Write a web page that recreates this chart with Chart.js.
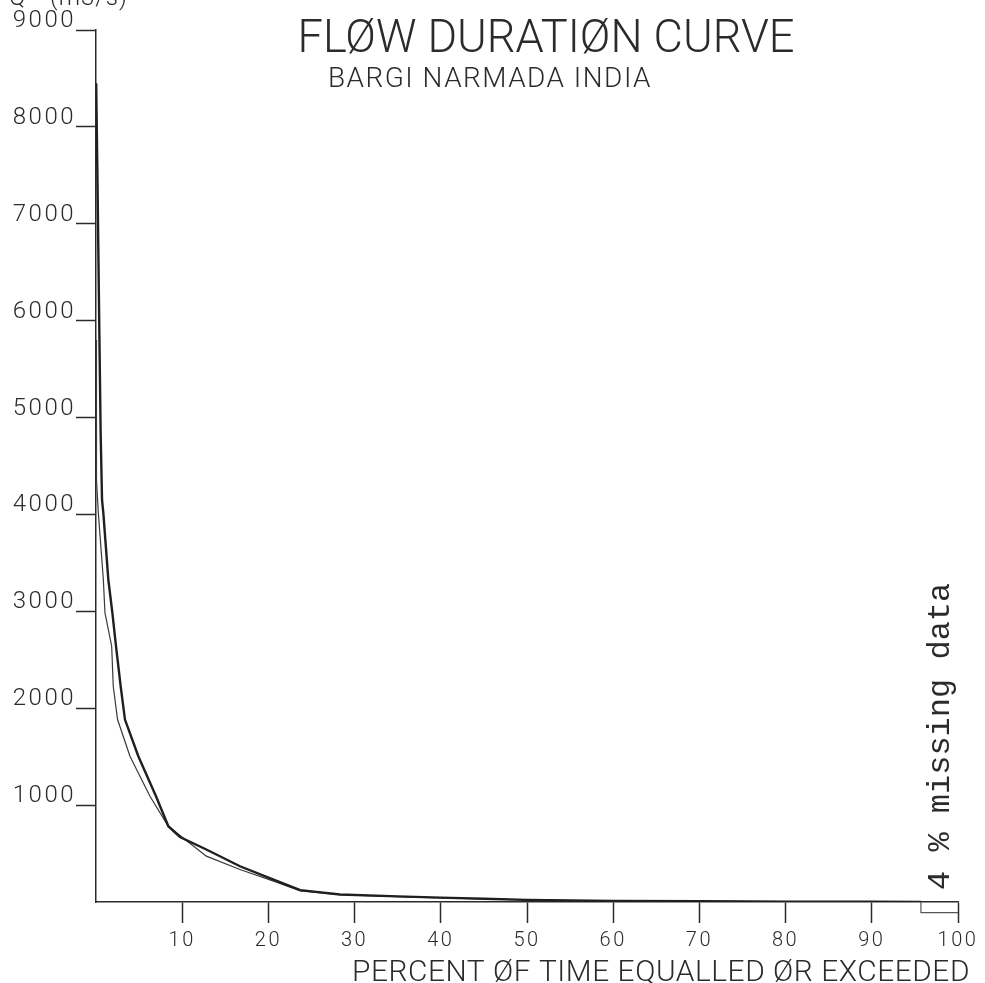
<!DOCTYPE html>
<html>
<head>
<meta charset="utf-8">
<title>Flow Duration Curve</title>
<script src="https://cdn.jsdelivr.net/npm/chart.js@4"></script>
<style>
  html, body { margin: 0; padding: 0; background: #fff; }
  #wrap { width: 985px; height: 983px; position: relative; }
</style>
</head>
<body>
<div id="wrap"><canvas id="fdc"></canvas></div>
<script>
// 流量历时曲线 - 两条曲线 + 缺测段
const pctA  = [0.02, 0.15, 0.27, 0.39, 0.54, 0.7, 0.85, 1.43, 1.9, 2.32, 2.86, 3.36, 4.91, 6.96, 8.39, 9.74, 12.8, 16.7, 20.6, 23.7, 28.3, 35, 40, 45, 50, 55, 60, 70, 80, 90, 95.7];
const flowA = [8450, 7600, 6730, 5870, 4840, 4150, 4016, 3328, 2984, 2640, 2227, 1883, 1505, 1092, 782, 671, 542, 369, 232, 122, 77, 58, 45, 33, 22, 16, 12, 7, 4, 2, 1];

const pctB  = [0.0, 0.02, 0.05, 0.1, 0.27, 0.85, 1.04, 1.82, 2.0, 2.5, 3.94, 6.26, 8.39, 12.8, 16.7, 20.6, 23.7, 28.3, 35, 40, 45, 50, 55, 60, 70, 80, 90, 95.7];
const flowB = [5800, 5000, 4700, 4360, 4016, 3328, 2984, 2640, 2227, 1883, 1505, 1092, 782, 473, 335, 215, 115, 77, 56, 43, 31, 21, 15, 11, 6, 3, 2, 1];

// 缺测数据标记 (画在零线以下)
const missingPct  = [95.7, 95.7, 100];
const missingFlow = [0, -110, -110];

const xTicks = [0, 10, 20, 30, 40, 50, 60, 70, 80, 90, 100];
const yTicks = [0, 1000, 2000, 3000, 4000, 5000, 6000, 7000, 8000, 9000];

const INK = '#2b2b2b';
const PLOT_FONT = 'Roboto, "DejaVu Sans", sans-serif';

function toPoints(xs, ys) {
    return xs.map((x, i) => ({ x: x, y: ys[i] }));
}

// 标题和文字
const labelsPlugin = {
    id: 'plotterText',
    beforeDraw(chart) {
        chart.ctx.letterSpacing = '2.5px';
    },
    afterDraw(chart) {
        const ctx = chart.ctx;
        ctx.save();
        ctx.fillStyle = INK;
        ctx.textBaseline = 'alphabetic';

        ctx.letterSpacing = '0px';
        ctx.font = '300 46px ' + PLOT_FONT;
        ctx.textAlign = 'center';
        ctx.fillText('FLØW DURATIØN CURVE', 546, 52, 497);

        ctx.letterSpacing = '1.5px';
        ctx.font = '300 28px ' + PLOT_FONT;
        ctx.textAlign = 'left';
        ctx.fillText('BARGI NARMADA INDIA', 328, 87, 324);

        ctx.letterSpacing = '0.55px';
        ctx.font = '300 30px ' + PLOT_FONT;
        ctx.fillText('PERCENT ØF TIME EQUALLED ØR EXCEEDED', 352, 981, 618);

        // 纵轴单位 (顶端被裁掉一部分)
        ctx.letterSpacing = '1px';
        ctx.font = '300 24px ' + PLOT_FONT;
        ctx.fillText('Q', 9, 5);
        ctx.fillText('(m3/s)', 50, 5);

        // 缺测比例
        ctx.letterSpacing = '0px';
        ctx.translate(949, 890);
        ctx.rotate(-Math.PI / 2);
        ctx.font = '32px "Liberation Mono", "DejaVu Sans Mono", monospace';
        ctx.fillText('4 % missing data', 0, 0);
        ctx.restore();
    }
};

const chart = new Chart(document.getElementById('fdc'), {
    type: 'line',
    data: {
        datasets: [
            {
                data: toPoints(pctA, flowA),
                borderColor: '#1f1f1f',
                borderWidth: 2.4,
                pointRadius: 0,
                tension: 0
            },
            {
                data: toPoints(pctB, flowB),
                borderColor: '#3a3a3a',
                borderWidth: 1.2,
                pointRadius: 0,
                tension: 0
            },
            {
                data: toPoints(missingPct, missingFlow),
                borderColor: '#555',
                borderWidth: 1.2,
                pointRadius: 0,
                tension: 0,
                clip: false
            }
        ]
    },
    options: {
        responsive: true,
        maintainAspectRatio: false,
        animation: false,
        events: [],
        layout: { padding: { top: 30, right: 27, left: 0, bottom: 0 } },
        plugins: {
            legend: { display: false },
            tooltip: { enabled: false }
        },
        scales: {
            x: {
                type: 'linear',
                min: 0,
                max: 100,
                afterBuildTicks: (scale) => { scale.ticks = xTicks.map(v => ({ value: v })); },
                afterFit: (scale) => { scale.height = 81; },
                border: { display: true, color: INK, width: 1.5 },
                grid: {
                    display: true,
                    drawOnChartArea: false,
                    drawTicks: true,
                    tickLength: 21,
                    tickWidth: 1.5,
                    tickColor: (c) => c.tick && c.tick.value === 0 ? 'rgba(0,0,0,0)' : INK
                },
                ticks: {
                    color: INK,
                    padding: 6,
                    maxRotation: 0,
                    font: { family: PLOT_FONT, size: 20, weight: '300' },
                    callback: (v) => v === 0 ? '' : String(v)
                }
            },
            y: {
                type: 'linear',
                min: 0,
                max: 9000,
                afterBuildTicks: (scale) => { scale.ticks = yTicks.map(v => ({ value: v })); },
                afterFit: (scale) => { scale.width = 96; },
                border: { display: true, color: INK, width: 1.5 },
                grid: {
                    display: true,
                    drawOnChartArea: false,
                    drawTicks: true,
                    tickLength: 20,
                    tickWidth: 1.5,
                    tickColor: (c) => c.tick && c.tick.value === 0 ? 'rgba(0,0,0,0)' : INK
                },
                ticks: {
                    color: INK,
                    padding: 0,
                    labelOffset: -9,
                    font: { family: PLOT_FONT, size: 24, weight: '300' },
                    callback: (v) => v === 0 ? '' : String(v)
                }
            }
        }
    },
    plugins: [labelsPlugin]
});
</script>
</body>
</html>
